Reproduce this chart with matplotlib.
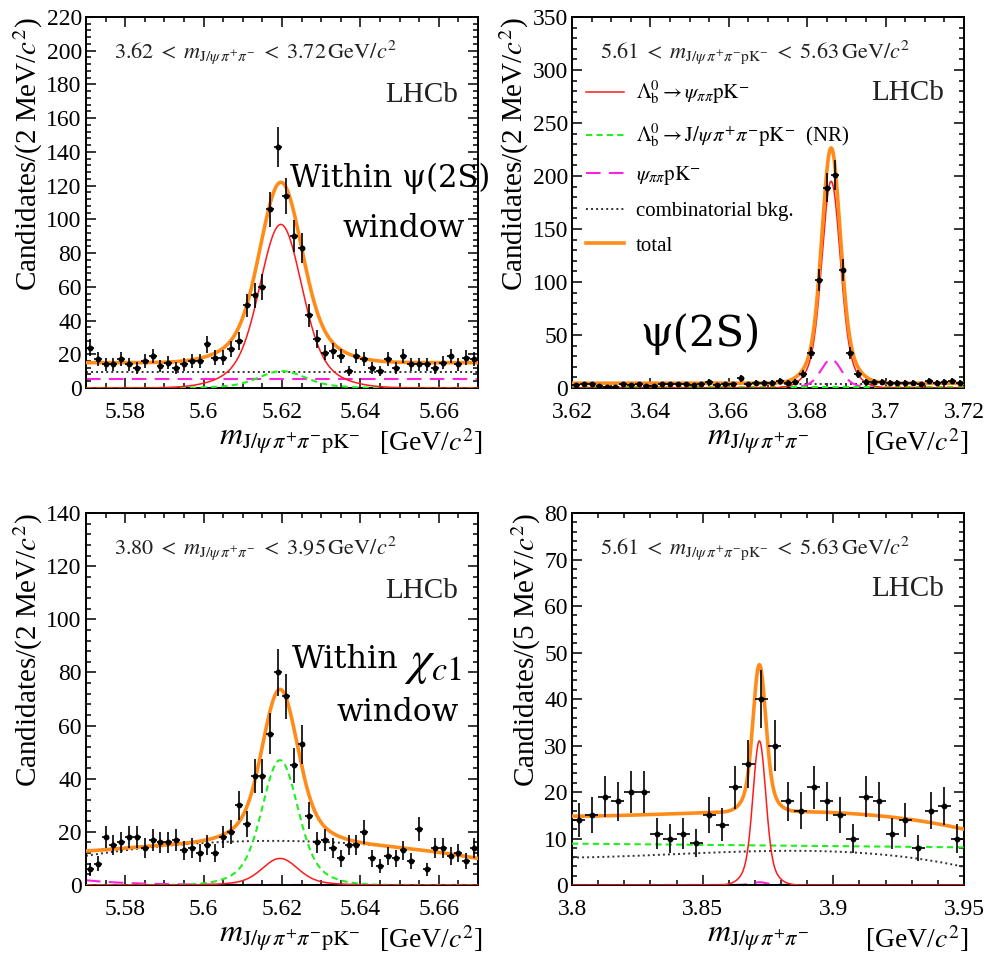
import numpy as np
import matplotlib
matplotlib.use('Agg')
import matplotlib.pyplot as plt
from matplotlib.ticker import MultipleLocator, FuncFormatter

plt.rcParams['font.family'] = ['Liberation Serif', 'DejaVu Serif']
plt.rcParams['mathtext.fontset'] = 'stix'

# ---- binned candidates ----
# top left: m(J/psi pi pi p K) in the psi(2S) window, 2 MeV bins
tl_range = (5.57, 5.67)
tl_bin = 0.002
tl_counts = [24, 17, 14, 14, 17, 14, 12, 16, 19, 13, 15, 12, 14, 16, 16, 26, 18, 18, 23, 28,
             49, 55, 60, 106, 143, 114, 90, 83, 43, 29, 21, 22, 19, 10, 19, 17, 12, 10, 17, 12,
             19, 14, 14, 14, 12, 15, 19, 14, 18, 17]
# top right: m(J/psi pi pi) around the psi(2S), 2 MeV bins
tr_range = (3.62, 3.72)
tr_bin = 0.002
tr_counts = [3, 4, 4, 2, 1, 1, 4, 3, 4, 2, 2, 4, 4, 4, 4, 3, 4, 6, 3, 4,
             4, 9, 4, 5, 5, 5, 7, 5, 6, 13, 33, 102, 189, 201, 111, 33, 13, 6, 6, 6,
             5, 5, 5, 5, 4, 7, 5, 6, 7, 5]
# bottom left: m(J/psi pi pi p K) in the chi_c1 window, 2 MeV bins
bl_range = (5.57, 5.67)
bl_bin = 0.002
bl_counts = [6, 8, 18, 15, 16, 18, 18, 14, 17, 16, 16, 17, 13, 14, 12, 15, 12, 18, 20, 30,
             23, 41, 41, 57, 80, 71, 45, 53, 26, 16, 17, 14, 10, 15, 15, 20, 10, 7, 11, 10,
             13, 9, 21, 6, 14, 14, 11, 12, 9, 14]
# bottom right: m(J/psi pi pi) around the chi_c1(3872), 5 MeV bins
br_range = (3.80, 3.95)
br_bin = 0.005
br_counts = [14, 15, 19, 18, 20, 20, 11, 10, 11, 9, 15, 13, 21, 26, 40, 30, 18, 16, 21, 18,
             15, 10, 19, 18, 11, 14, 8, 16, 17, 10]

# ---- fit model parameters (amplitude, mean, core width) ----
tl_sig = (97.0, 5.6197, 0.0050)
tl_nr = (10.0, 5.6200, 0.0055)
tl_psipp = 5.5
tl_comb = 9.5

tr_sig = (195.0, 3.6861, 0.0022)
tr_psipp = (27.0, 3.6861, 0.0024)
tr_nr = 1.2
tr_comb = 3.3

bl_sig = (10.0, 5.6195, 0.0042)
bl_nr = (47.0, 5.6195, 0.0042)
bl_psipp = (1.8, 0.012)              # height at low edge, decay length
bl_comb = (16.2, 0.0632, -0.00244)   # quadratic in MeV about 5.605

br_sig = (31.0, 3.8717, 0.0023)
br_psipp = (0.6, 3.8717, 0.0025)
br_nr = (8.9, 8.1)                   # linear, low edge -> high edge
br_comb = (5.9, 1.05, 10.15, -13.2)  # cubic in t = (m - 3.80)/0.15

C_SIG = '#ff1a1a'
C_NR = '#22ee22'
C_PSI = '#ff22dd'
C_COMB = '#333333'
C_TOT = '#ff8c1a'
BIG = 'DejaVu Serif'


def peak(x, amp, mu, sig, frac=0.8):
    d = x - mu
    return amp * (frac * np.exp(-0.5 * (d / sig) ** 2) + (1 - frac) * np.exp(-0.5 * (d / (2 * sig)) ** 2))


def style_axes(ax, xr, yr, xmaj, xmin, ymaj, ymin):
    ax.set_xlim(*xr)
    ax.set_ylim(*yr)
    ax.xaxis.set_major_locator(MultipleLocator(xmaj))
    ax.xaxis.set_minor_locator(MultipleLocator(xmin))
    ax.yaxis.set_major_locator(MultipleLocator(ymaj))
    ax.yaxis.set_minor_locator(MultipleLocator(ymin))
    ax.xaxis.set_major_formatter(FuncFormatter(lambda v, p: f'{round(v, 4):g}'))
    ax.yaxis.set_major_formatter(FuncFormatter(lambda v, p: f'{v:.0f}'))
    ax.tick_params(which='both', direction='in', top=True, right=True, labelsize=17, width=1.1)
    ax.tick_params(which='major', length=7.5)
    ax.tick_params(which='minor', length=3.8)
    ax.tick_params(axis='x', which='major', pad=10)
    ax.tick_params(axis='y', which='major', pad=3)
    for s in ax.spines.values():
        s.set_linewidth(1.4)


def draw_data(ax, xr, width, counts):
    counts = np.array(counts, dtype=float)
    centers = xr[0] + width * (np.arange(len(counts)) + 0.5)
    ax.errorbar(centers, counts, xerr=width / 2, yerr=np.sqrt(counts), fmt='o', ms=3.2,
                color='k', elinewidth=1.2, capsize=0, zorder=6)


def draw_components(ax, x, sig, nr, psi, comb):
    ax.plot(x, comb, color=C_COMB, lw=1.4, ls=(0, (1, 1.6)), zorder=2, label='combinatorial bkg.')
    ax.plot(x, psi, color=C_PSI, lw=1.5, ls=(0, (7, 4)), zorder=2, label=r'$\psi_{\pi\pi}\mathrm{pK}^{-}$')
    ax.plot(x, nr, color=C_NR, lw=1.5, ls=(0, (3, 2)), zorder=3,
            label=r'$\Lambda_{\mathrm{b}}^{0}\rightarrow\mathrm{J}/\psi\,\pi^{+}\pi^{-}\mathrm{pK}^{-}$  (NR)')
    ax.plot(x, sig, color=C_SIG, lw=1.1, zorder=4, label=r'$\Lambda_{\mathrm{b}}^{0}\rightarrow\psi_{\pi\pi}\mathrm{pK}^{-}$')
    ax.plot(x, sig + nr + psi + comb, color=C_TOT, lw=2.6, zorder=5, label='total')


def labels(ax, ylab, xsub, xpos, cut, lhcb_y):
    ax.set_ylabel(ylab, fontsize=21, loc='top', labelpad=1)
    ax.text(xpos, -0.145, r'$m_{' + xsub + '}$', transform=ax.transAxes, fontsize=23,
            ha='center', va='center')
    ax.text(1.01, -0.145, r'[GeV/$c^2$]', transform=ax.transAxes, fontsize=20,
            ha='right', va='center')
    ax.text(0.072, 0.905, cut, transform=ax.transAxes, fontsize=16, ha='left', va='center',
            color='#222222')
    ax.text(0.95, lhcb_y, 'LHCb', transform=ax.transAxes, fontsize=21, ha='right', va='center',
            color='#222222')


fig = plt.figure(figsize=(9.96, 9.58), dpi=100)
ax_tl = fig.add_axes([0.0863, 0.5950, 0.3936, 0.3873])
ax_tr = fig.add_axes([0.5743, 0.5950, 0.3936, 0.3873])
ax_bl = fig.add_axes([0.0863, 0.0762, 0.3936, 0.3883])
ax_br = fig.add_axes([0.5743, 0.0762, 0.3936, 0.3883])

sub_full = r'\mathrm{J}/\psi\,\pi^{+}\pi^{-}\mathrm{pK}^{-}'
sub_jpp = r'\mathrm{J}/\psi\,\pi^{+}\pi^{-}'
lt = r'\;<\;'

# top left
x = np.linspace(*tl_range, 800)
draw_components(ax_tl, x, peak(x, *tl_sig), peak(x, *tl_nr),
                np.full_like(x, tl_psipp), np.full_like(x, tl_comb))
draw_data(ax_tl, tl_range, tl_bin, tl_counts)
style_axes(ax_tl, tl_range, (0, 220), 0.02, 0.005, 20, 4)
labels(ax_tl, r'Candidates/(2 MeV/$c^2$)', sub_full, 0.52,
       r'$3.62' + lt + r'm_{' + sub_jpp + r'}' + lt + r'3.72\,\mathrm{GeV}/c^{2}$', 0.79)
ax_tl.text(0.52, 0.565, 'Within ψ(2S)', transform=ax_tl.transAxes, fontsize=22,
           family=BIG, ha='left', va='center', zorder=8)
ax_tl.text(0.655, 0.43, 'window', transform=ax_tl.transAxes, fontsize=22.5,
           family=BIG, ha='left', va='center', zorder=8)

# top right
x = np.linspace(*tr_range, 800)
draw_components(ax_tr, x, peak(x, *tr_sig), np.full_like(x, tr_nr),
                peak(x, *tr_psipp), np.full_like(x, tr_comb))
draw_data(ax_tr, tr_range, tr_bin, tr_counts)
style_axes(ax_tr, tr_range, (0, 350), 0.02, 0.005, 50, 10)
labels(ax_tr, r'Candidates/(2 MeV/$c^2$)', sub_jpp, 0.475,
       r'$5.61' + lt + r'm_{' + sub_full + r'}' + lt + r'5.63\,\mathrm{GeV}/c^{2}$', 0.795)
h, l = ax_tr.get_legend_handles_labels()
order = [3, 2, 1, 0, 4]
ax_tr.legend([h[i] for i in order], [l[i] for i in order], loc='upper left',
             bbox_to_anchor=(0.015, 0.855), borderaxespad=0, frameon=False, fontsize=15,
             handlelength=1.8, handletextpad=0.6, labelspacing=0.7)
ax_tr.text(0.175, 0.145, 'ψ(2S)', transform=ax_tr.transAxes, fontsize=30,
           family=BIG, ha='left', va='center', zorder=8)

# bottom left
x = np.linspace(*bl_range, 800)
d = (x - 5.605) * 1000
draw_components(ax_bl, x, peak(x, *bl_sig), peak(x, *bl_nr),
                bl_psipp[0] * np.exp(-(x - bl_range[0]) / bl_psipp[1]),
                bl_comb[0] + bl_comb[1] * d + bl_comb[2] * d ** 2)
draw_data(ax_bl, bl_range, bl_bin, bl_counts)
style_axes(ax_bl, bl_range, (0, 140), 0.02, 0.005, 20, 4)
labels(ax_bl, r'Candidates/(2 MeV/$c^2$)', sub_full, 0.52,
       r'$3.80' + lt + r'm_{' + sub_jpp + r'}' + lt + r'3.95\,\mathrm{GeV}/c^{2}$', 0.79)
ax_bl.text(0.525, 0.605, 'Within', transform=ax_bl.transAxes, fontsize=23,
           family=BIG, ha='left', va='center', zorder=8)
ax_bl.text(0.812, 0.595, r'$\chi_{c1}$', transform=ax_bl.transAxes, fontsize=35,
           ha='left', va='center', zorder=8)
ax_bl.text(0.64, 0.465, 'window', transform=ax_bl.transAxes, fontsize=22.5,
           family=BIG, ha='left', va='center', zorder=8)

# bottom right
x = np.linspace(*br_range, 800)
t = (x - br_range[0]) / (br_range[1] - br_range[0])
draw_components(ax_br, x, peak(x, *br_sig), br_nr[0] + (br_nr[1] - br_nr[0]) * t,
                peak(x, *br_psipp),
                br_comb[0] + br_comb[1] * t + br_comb[2] * t ** 2 + br_comb[3] * t ** 3)
draw_data(ax_br, br_range, br_bin, br_counts)
style_axes(ax_br, br_range, (0, 80), 0.05, 0.01, 10, 2)
labels(ax_br, r'Candidates/(5 MeV/$c^2$)', sub_jpp, 0.475,
       r'$5.61' + lt + r'm_{' + sub_full + r'}' + lt + r'5.63\,\mathrm{GeV}/c^{2}$', 0.795)

fig.savefig('out.png', dpi=100)
